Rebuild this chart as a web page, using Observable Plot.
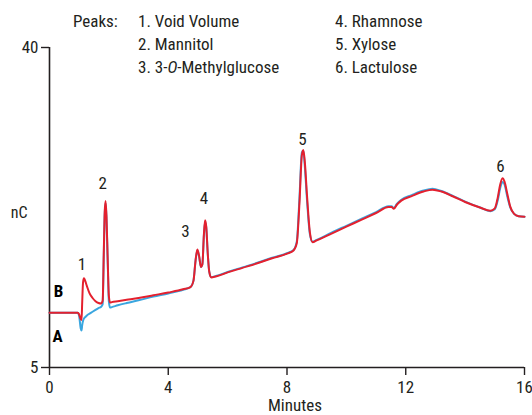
<!DOCTYPE html>
<html>
<head>
<meta charset="utf-8">
<script src="https://cdn.jsdelivr.net/npm/d3@7"></script>
<script src="https://cdn.jsdelivr.net/npm/@observablehq/plot@0.6"></script>
<style>
  html, body { margin: 0; padding: 0; background: #fff; }
  #wrap { position: relative; width: 532px; height: 415px; font-family: Roboto, "Liberation Sans", sans-serif; font-stretch: condensed; color: #231f20; }
  #wrap svg { position: absolute; left: 0; top: 0; }
  #wrap svg text { font-family: Roboto, "Liberation Sans", sans-serif; font-stretch: condensed; }
  .peaks { position: absolute; top: 10px; font-size: 17px; line-height: 23px; white-space: nowrap; }
</style>
</head>
<body>
<div id="wrap">
  <div class="peaks" style="left:73px">Peaks:</div>
  <div class="peaks" style="left:138px">1. Void Volume<br>2. Mannitol<br>3. 3-<i>O</i>-Methylglucose</div>
  <div class="peaks" style="left:335px">4. Rhamnose<br>5. Xylose<br>6. Lactulose</div>
</div>
<script>
// Retention time (min) and detector response (nC) for the two traces
const minutes = [
  0.00, 0.50, 0.95, 1.00, 1.05, 1.08, 1.10, 1.13, 1.16, 1.20, 1.26, 1.35, 1.45, 1.55, 1.65, 1.74,
  1.79, 1.83, 1.86, 1.89, 1.92, 1.96, 2.00, 2.04, 2.10, 2.30, 2.60, 3.00, 3.50, 4.00, 4.50, 4.75,
  4.85, 4.92, 4.98, 5.04, 5.10, 5.15, 5.20, 5.24, 5.28, 5.33, 5.38, 5.45, 5.60, 6.00, 6.50, 7.00,
  7.50, 8.00, 8.22, 8.33, 8.42, 8.50, 8.55, 8.60, 8.68, 8.77, 8.86, 9.00, 9.50, 10.00, 10.50, 11.00,
  11.42, 11.52, 11.60, 11.70, 11.85, 12.20, 12.60, 12.90, 13.20, 13.60, 14.00, 14.50, 14.85, 15.00,
  15.10, 15.18, 15.26, 15.33, 15.42, 15.52, 15.65, 15.80, 16.00
];
const traceA = [
  11.0, 11.0, 11.0, 10.6, 9.3, 9.05, 9.6, 10.1, 10.35, 10.5, 10.7, 10.9, 11.1, 11.3, 11.5, 11.65,
  11.9, 17.5, 21.8, 23.0, 21.3, 16.6, 12.2, 11.55, 11.6, 11.8, 12.05, 12.35, 12.75, 13.1, 13.5, 13.8,
  14.5, 16.7, 17.8, 17.1, 16.0, 16.3, 19.4, 20.9, 20.3, 17.5, 15.5, 14.9, 15.0, 15.45, 15.95, 16.45,
  17.0, 17.5, 17.85, 18.8, 23.6, 28.5, 28.7, 27.0, 23.0, 19.6, 18.75, 18.95, 19.75, 20.5, 21.25, 22.0,
  22.65, 22.65, 22.45, 22.9, 23.35, 23.85, 24.35, 24.55, 24.3, 23.75, 23.15, 22.5, 22.1, 22.3,
  23.3, 24.6, 25.3, 25.0, 23.7, 22.5, 21.8, 21.55, 21.5
];
const traceB = [
  11.0, 11.0, 11.0, 10.8, 10.3, 10.2, 12.0, 14.3, 14.75, 14.5, 13.9, 13.1, 12.6, 12.25, 12.05, 12.0,
  12.3, 17.8, 22.0, 23.2, 21.5, 16.9, 12.8, 12.1, 12.15, 12.25, 12.4, 12.6, 12.9, 13.2, 13.55, 13.8,
  14.5, 16.7, 17.9, 17.2, 16.0, 16.3, 19.5, 21.1, 20.4, 17.5, 15.5, 14.85, 14.95, 15.4, 15.9, 16.4,
  16.95, 17.45, 17.8, 18.6, 23.0, 28.2, 28.8, 27.5, 23.5, 19.8, 18.7, 18.9, 19.65, 20.4, 21.15, 21.9,
  22.55, 22.55, 22.35, 22.8, 23.25, 23.75, 24.25, 24.45, 24.25, 23.7, 23.1, 22.5, 22.15, 22.4,
  23.6, 25.0, 25.7, 25.3, 24.0, 22.6, 21.8, 21.55, 21.5
];

// Peak numbers and their retention times
const peakNumbers = ["1", "2", "3", "4", "5", "6"];
const peakTimes = [1.16, 1.89, 4.98, 5.24, 8.55, 15.26];

// Trace letters and axis ticks
const traceNames = ["A", "B"];
const xTicks = [0, 4, 8, 12, 16];
const yTicks = [5, 40];

const rows = minutes.map((t, i) => ({t, a: traceA[i], b: traceB[i]}));

// each peak label sits just above the apex of trace B, nudged by a few pixels
const peakNudge = [[-2, -8], [-3, -12], [-12, -13], [-1, -16], [-1, -5], [-2, -6]];
const peaks = peakNumbers.map((n, k) => {
  const i = d3.minIndex(minutes, t => Math.abs(t - peakTimes[k]));
  return {n, t: minutes[i], v: traceB[i], dx: peakNudge[k][0], dy: peakNudge[k][1]};
});

const ink = "#231f20";
const chart = Plot.plot({
  width: 532,
  height: 415,
  marginLeft: 49,
  marginRight: 8,
  marginTop: 47,
  marginBottom: 48,
  x: {domain: [0, 16]},
  y: {domain: [5, 40]},
  style: {fontFamily: "Roboto, 'Liberation Sans', sans-serif", fontSize: "17px", color: ink, background: "transparent", overflow: "visible"},
  marks: [
    Plot.ruleX([0], {stroke: ink, strokeWidth: 1.6}),
    Plot.ruleY([5], {stroke: ink, strokeWidth: 1.6}),
    Plot.axisY({ticks: yTicks, tickSize: 8, tickPadding: 3, label: null, stroke: ink, strokeWidth: 1.4, fontSize: 17}),
    Plot.axisX({ticks: xTicks, tickSize: 8, tickPadding: 5, label: null, stroke: ink, strokeWidth: 1.4, fontSize: 17}),
    Plot.text(["nC"], {frameAnchor: "left", dx: -22, dy: 5, textAnchor: "end", fontSize: 16, fill: ink}),
    Plot.text(["Minutes"], {frameAnchor: "bottom", dx: 8, dy: 43, lineAnchor: "bottom", fontSize: 17, fill: ink}),
    Plot.line(rows, {x: "t", y: "a", stroke: "#3aa6df", strokeWidth: 2, curve: "monotone-x"}),
    Plot.line(rows, {x: "t", y: "b", stroke: "#e4202e", strokeWidth: 2, curve: "monotone-x"}),
    ...peaks.map(p => Plot.text([p], {x: "t", y: "v", text: "n", dx: p.dx, dy: p.dy, lineAnchor: "bottom", fontSize: 17, fill: ink})),
    Plot.text([traceNames[1]], {x: 0, y: traceB[0], dx: 9, dy: -21, fontWeight: "bold", fontSize: 17, fill: "#000"}),
    Plot.text([traceNames[0]], {x: 0, y: traceA[0], dx: 8, dy: 24, fontWeight: "bold", fontSize: 17, fill: "#000"})
  ]
});
document.getElementById("wrap").prepend(chart);
</script>
</body>
</html>
